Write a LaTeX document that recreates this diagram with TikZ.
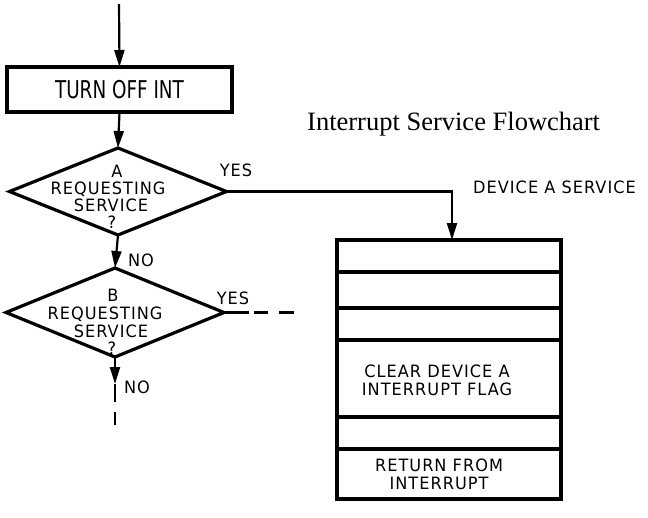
\documentclass[tikz,border=0pt]{standalone}
\usepackage{fontspec}
\setmainfont{Liberation Serif}
\newfontfamily\lbl[LetterSpace=6,FakeStretch=0.95]{DejaVu Sans}
\newfontfamily\lblc[FakeStretch=0.75]{DejaVu Sans}
\usetikzlibrary{shapes.geometric,arrows.meta}
\begin{document}
\begin{tikzpicture}[x=1pt,y=-1pt,
  box/.style={draw, line width=3.2pt, inner sep=0pt, outer sep=0pt, minimum width=224pt},
  dec/.style={diamond, draw, line width=3.2pt, inner sep=0pt, outer sep=0pt},
  conn/.style={line width=2.2pt},
  arr/.style={conn, -{Triangle[length=17pt,width=10pt]}},
  lab/.style={font=\lbl\fontsize{17}{18}\selectfont, inner sep=0pt, anchor=base},
  blab/.style={font=\lbl\fontsize{17}{18}\selectfont, inner sep=0pt, align=center},
  ttl/.style={font=\fontsize{26.5}{30}\selectfont, inner sep=0pt, anchor=base west}
]
\useasboundingbox (0,0) rectangle (648,517);

% title
\node[ttl] (title) at (307,130) {Interrupt Service Flowchart};

% entry and first box
\coordinate (start) at (119,4);
\node[box, minimum width=225pt, minimum height=45pt,
      font=\lblc\fontsize{24.5}{26}\selectfont] (t) at (119.5,89.5) {TURN OFF INT};
\draw[arr] (start) -- (t.north);

% diamond A
\node[dec, minimum width=217pt, minimum height=87pt] (dA) at (118,191.5) {};
\node[lab] (dA1) at (117,177) {A};
\node[lab] (dA2) at (108,194) {REQUESTING};
\node[lab] (dA3) at (111,211) {SERVICE};
\node[lab] (dA4) at (112,228) {?};
\draw[arr] (t.south) -- (dA.north);
\node[lab] (yesA) at (236,176) {YES};

% diamond B
\node[dec, minimum width=218pt, minimum height=89pt] (dB) at (115,312.5) {};
\node[lab] (dB1) at (113,301) {B};
\node[lab] (dB2) at (105,319) {REQUESTING};
\node[lab] (dB3) at (111,337) {SERVICE};
\node[lab] (dB4) at (112,354) {?};
\draw[arr] (dA.south) -- (dB.north);
\node[lab] (noA) at (141,266) {NO};
\node[lab] (yesB) at (233,304) {YES};

% B exits
\coordinate (e1) at (294,312.5);
\draw[conn, dash pattern=on 25pt off 5pt on 14pt off 11pt on 15pt] (dB.east) -- (e1);
\coordinate (b1) at (115,384);
\coordinate (b2) at (115,402);
\coordinate (b3) at (115,412);
\coordinate (b4) at (115,425);
\draw[arr] (dB.south) -- (b1);
\draw[conn] (b1) -- (b2);
\draw[conn] (b3) -- (b4);
\node[lab] (noB) at (137,393) {NO};

% device A service stack
\node[box, minimum height=32pt, anchor=north] (s1) at (449,240) {};
\node[box, minimum height=36pt, anchor=north] (s2) at (s1.south) {};
\node[box, minimum height=32pt, anchor=north] (s3) at (s2.south) {};
\node[box, minimum height=77pt, anchor=north] (s4) at (s3.south) {};
\node[box, minimum height=32pt, anchor=north] (s5) at (s4.south) {};
\node[box, minimum height=50pt, anchor=north] (s6) at (s5.south) {};
\node[blab] (s4t) at (437,380) {CLEAR DEVICE A\\INTERRUPT FLAG};
\node[blab] (s6t) at (439,474) {RETURN FROM\\INTERRUPT};
\node[lab, anchor=base west] (dev) at (473,193) {DEVICE A SERVICE};

\draw[arr] (dA.east) -| ([xshift=3pt]s1.north);
\end{tikzpicture}
\end{document}
